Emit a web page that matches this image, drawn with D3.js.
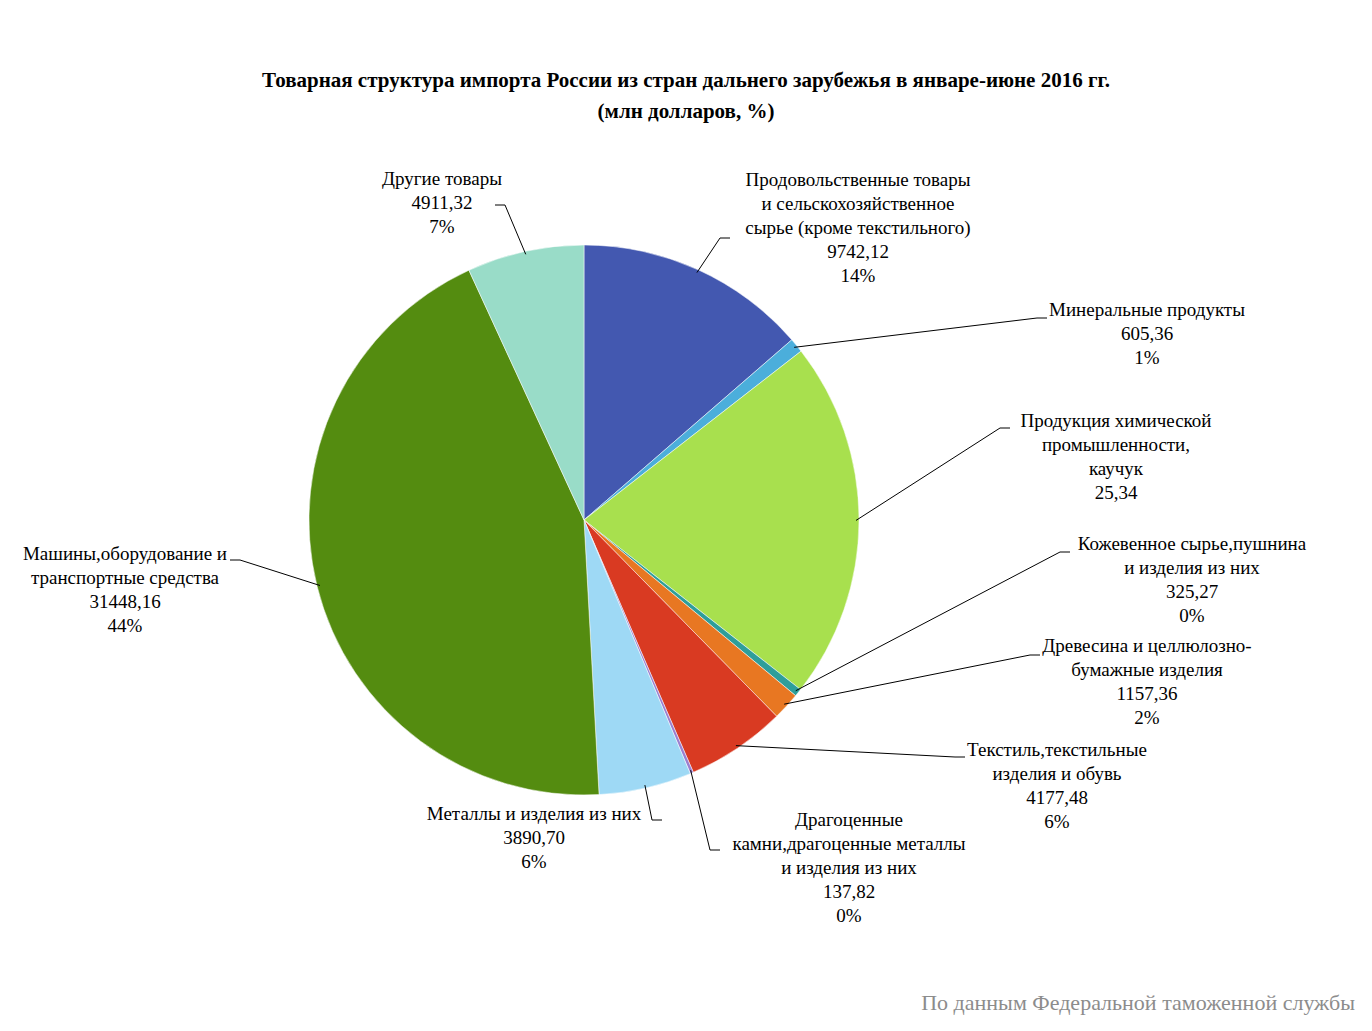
<!DOCTYPE html>
<html><head><meta charset="utf-8">
<script src="https://cdn.jsdelivr.net/npm/d3@7"></script>
<style>body{margin:0;background:#fff}text{font-family:"Liberation Serif","Times New Roman",serif}</style>
</head><body><svg id="c" width="1372" height="1031"></svg>
<script>
const categories=["Продовольственные товары|и сельскохозяйственное|сырье (кроме текстильного)","Минеральные продукты","Продукция химической|промышленности,|каучук","Кожевенное сырье,пушнина|и изделия из них","Древесина и целлюлозно-|бумажные изделия","Текстиль,текстильные|изделия и обувь","Драгоценные|камни,драгоценные металлы|и изделия из них","Металлы и изделия из них","Машины,оборудование и|транспортные средства","Другие товары"];
const values=[9742.12,605.36,15077,325.27,1157.36,4177.48,137.82,3890.70,31448.16,4911.32];
const valueLabels=["9742,12","605,36","25,34","325,27","1157,36","4177,48","137,82","3890,70","31448,16","4911,32"];
const pctLabels=["14%","1%","","0%","2%","6%","0%","6%","44%","7%"];
const colors=["#4358B0","#4BAEDB","#A8E04E","#2E9E9A","#E87722","#D93A22","#9B7FD0","#9ED9F5","#548C10","#99DCC8"];
// label layout: center x, first baseline y, leader elbow x,y
const layout=[[858,186,720,238],[1147,316,1037,318],[1116,427,1000,428],[1192,550,1060,552],[1147,652,1030,655],[1057,756,955,757],[849,826,710,850],[534,820,652,820],[125,560,240,560],[442,185,505,205]];
const svg=d3.select("#c"),cx=584,cy=520,r=275;
svg.append("text").attr("x",686).attr("y",87).attr("text-anchor","middle").attr("font-size",21).attr("font-weight","bold").text("Товарная структура  импорта  России из стран  дальнего  зарубежья   в январе-июне 2016 гг.");
svg.append("text").attr("x",686).attr("y",118).attr("text-anchor","middle").attr("font-size",21).attr("font-weight","bold").text("(млн долларов, %)");
const pie=d3.pie().sort(null).value(d=>d)(values);
const arc=d3.arc().innerRadius(0).outerRadius(r);
const g=svg.append("g").attr("transform",`translate(${cx},${cy})`);
g.selectAll("path").data(pie).join("path").attr("d",arc).attr("fill",(d,i)=>colors[i]).attr("stroke","#fff").attr("stroke-width",0.5);
const edge=d3.arc().innerRadius(r-3).outerRadius(r-3);
pie.forEach((d,i)=>{
  const a=(d.startAngle+d.endAngle)/2;
  const sx=cx+Math.sin(a)*(r-3), sy=cy-Math.cos(a)*(r-3);
  const [lx,ly,ex,ey]=layout[i];
  const right=ex>cx;
  svg.append("polyline").attr("points",`${sx},${sy} ${ex},${ey} ${ex+(right?10:-10)},${ey}`).attr("fill","none").attr("stroke","#000").attr("stroke-width",1);
  const lines=categories[i].split("|").concat([valueLabels[i]]).concat(pctLabels[i]?[pctLabels[i]]:[]);
  const t=svg.append("text").attr("font-size",19).attr("text-anchor","middle");
  lines.forEach((s,k)=>t.append("tspan").attr("x",lx).attr("y",ly+k*24).text(s));
});
svg.append("text").attr("x",1355).attr("y",1010).attr("text-anchor","end").attr("font-size",22).attr("fill","#8c8c8c").text("По данным Федеральной таможенной службы");
</script></body></html>
